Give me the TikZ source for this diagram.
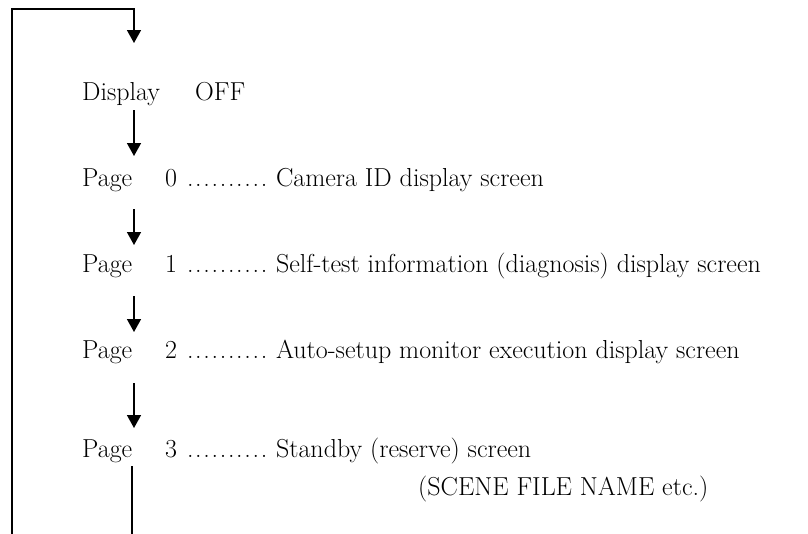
\documentclass[tikz,border=0pt]{standalone}
\usetikzlibrary{arrows.meta}
\tikzset{
  flow/.style={line width=1.5pt, -{Triangle[width=14pt,length=13pt]}},
  wire/.style={line width=1.5pt},
  txt/.style={anchor=base west, inner sep=0pt, font=\fontsize{26}{31}\selectfont},
}
\newcommand{\leaderdots}{\hbox to 82pt{\leaders\hbox to 8.2pt{\hss.\hss}\hfil}}
\begin{document}
\begin{tikzpicture}[x=1pt,y=-1pt]
\useasboundingbox (0,0) rectangle (808,533);

% text column: labels, page numbers, descriptions
\node[txt] (disp)  at (82,100)  {Display};
\node[txt] (off)   at (195,100) {OFF};

\node[txt] (pg0)   at (82,186)  {Page};
\node[txt] (n0)    at (165,186) {0};
\node[txt] (d0)    at (186,186) {\leaderdots\ Camera ID display screen};

\node[txt] (pg1)   at (82,272)  {Page};
\node[txt] (n1)    at (165,272) {1};
\node[txt] (d1)    at (186,272) {\leaderdots\ Self-test information (diagnosis) display screen};

\node[txt] (pg2)   at (82,358)  {Page};
\node[txt] (n2)    at (165,358) {2};
\node[txt] (d2)    at (186,358) {\leaderdots\ Auto-setup monitor execution display screen};

\node[txt] (pg3)   at (82,457)  {Page};
\node[txt] (n3)    at (165,457) {3};
\node[txt] (d3)    at (186,457) {\leaderdots\ Standby (reserve) screen};
\node[txt] (note)  at (418,495) {(SCENE FILE NAME etc.)};

% points on the vertical spine
\coordinate (top)   at (134,9);
\coordinate (in0)   at (134,43);
\coordinate (a1s)   at (134,110);
\coordinate (a1e)   at (134,156);
\coordinate (a2s)   at (134,209);
\coordinate (a2e)   at (134,245);
\coordinate (a3s)   at (134,296);
\coordinate (a3e)   at (134,332);
\coordinate (a4s)   at (134,383);
\coordinate (a4e)   at (134,428);
\coordinate (outs)  at (132,466);
\coordinate (oute)  at (132,540);
\coordinate (back)  at (12,540);
\coordinate (corner) at (12,9);

% return loop from the bottom back to the top
\draw[flow] (back) -- (corner) -- (top) -- (in0);
\draw[wire] (outs) -- (oute);

% step arrows between pages
\draw[flow] (a1s) -- (a1e);
\draw[flow] (a2s) -- (a2e);
\draw[flow] (a3s) -- (a3e);
\draw[flow] (a4s) -- (a4e);
\end{tikzpicture}
\end{document}
